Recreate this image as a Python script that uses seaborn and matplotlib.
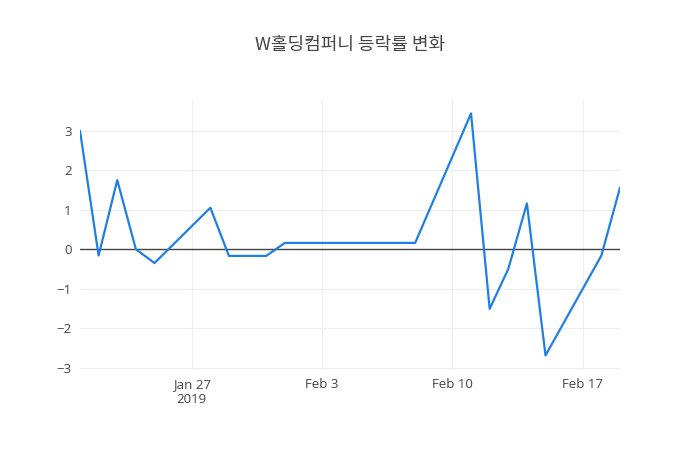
import pandas as pd
import seaborn as sns
import matplotlib.pyplot as plt

# daily change rate (%)
dates = ["2019-01-21", "2019-01-22", "2019-01-23", "2019-01-24", "2019-01-25",
         "2019-01-28", "2019-01-29", "2019-01-30", "2019-01-31", "2019-02-01",
         "2019-02-07", "2019-02-08", "2019-02-11", "2019-02-12", "2019-02-13",
         "2019-02-14", "2019-02-15", "2019-02-18", "2019-02-19"]
change = [3.0, -0.16, 1.75, 0.0, -0.35,
          1.05, -0.17, -0.17, -0.17, 0.16,
          0.16, 0.16, 3.44, -1.51, -0.50,
          1.16, -2.69, -0.16, 1.56]
tick_dates = ["2019-01-27", "2019-02-03", "2019-02-10", "2019-02-17"]
tick_labels = ["Jan 27\n2019", "Feb 3", "Feb 10", "Feb 17"]
title = "W홀딩컴퍼니 등락률 변화"

df = pd.DataFrame({"date": pd.to_datetime(dates), "change": change})

sns.set_style("white")
plt.rcParams["font.family"] = ["Open Sans", "Noto Sans CJK KR", "DejaVu Sans"]

fig = plt.figure(figsize=(7, 4.5), dpi=100)
ax = fig.add_axes([80 / 700, 80 / 450, 540 / 700, 270 / 450])

ax.axhline(0, color="#444444", lw=1, zorder=2)
sns.lineplot(data=df, x="date", y="change", color="#1f7fe5", lw=1.6, ax=ax, zorder=3)

ax.set_xlim(df["date"].min(), df["date"].max())
ax.set_ylim(-3.06, 3.78)
ax.set_xticks(pd.to_datetime(tick_dates))
ax.set_xticklabels(tick_labels)
ax.set_yticks([-3, -2, -1, 0, 1, 2, 3])
ax.set_yticklabels(["\u22123", "\u22122", "\u22121", "0", "1", "2", "3"])
ax.grid(True, color="#eeeeee", lw=0.8, zorder=0)
ax.set_axisbelow(True)
for s in ax.spines.values():
    s.set_visible(False)
ax.tick_params(length=0, labelsize=9.5, colors="#444444", pad=6)
ax.set_xlabel("")
ax.set_ylabel("")

fig.text(0.5, 1 - 45 / 450, title, ha="center", va="center", fontsize=13,
         color="#444444", family=["Noto Sans CJK KR", "DejaVu Sans"])

fig.savefig("out.png", dpi=100)
